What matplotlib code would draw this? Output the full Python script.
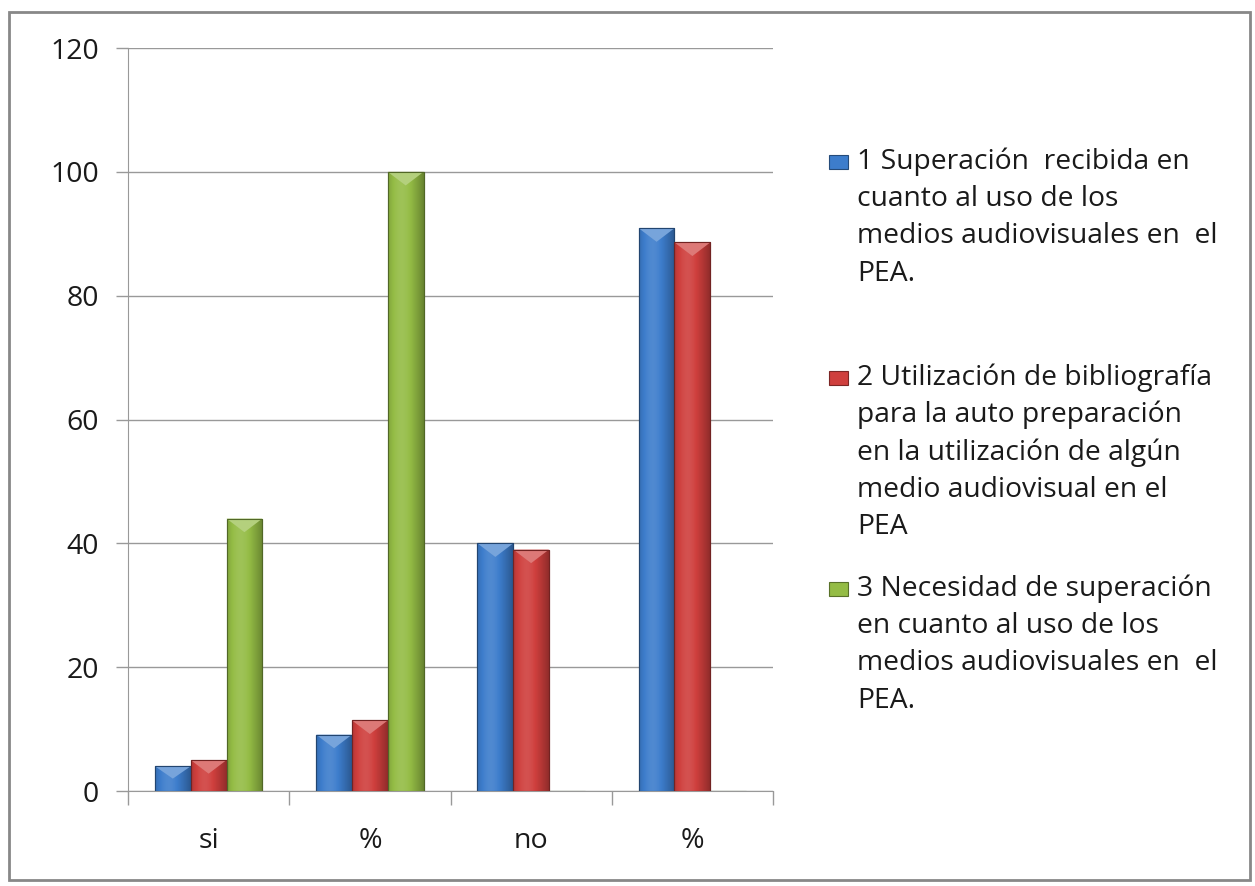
import numpy as np
import matplotlib
matplotlib.use("Agg")
import matplotlib.pyplot as plt
from matplotlib.patches import Rectangle
from matplotlib.colors import to_rgb

categories = ["si", "%", "no", "%"]
series_names = [
    "1 Superación  recibida en\ncuanto al uso de los\nmedios audiovisuales en  el\nPEA.",
    "2 Utilización de bibliografía\npara la auto preparación\nen la utilización de algún\nmedio audiovisual en el\nPEA",
    "3 Necesidad de superación\nen cuanto al uso de los\nmedios audiovisuales en  el\nPEA.",
]
s1 = [4, 9.1, 40, 90.9]
s2 = [5, 11.4, 39, 88.6]
s3 = [44, 100, 0, 0]
series = [s1, s2, s3]
colors = ["#3D7DCC", "#CF3F3D", "#94BC45"]
yticks = [0, 20, 40, 60, 80, 100, 120]

FONT = "Open Sans"
plt.rcParams["font.family"] = [FONT, "DejaVu Sans"]

fig = plt.figure(figsize=(12.55, 8.86), dpi=100)
W, H = 1255, 886
ax = fig.add_axes([128 / W, 1 - 791 / H, (773 - 128) / W, (791 - 48) / H])

x = np.arange(len(categories))
bw = 0.222

def shade(c, f):
    r = np.array(to_rgb(c))
    if f >= 0:
        return tuple(r + (1 - r) * f)
    return tuple(r * (1 + f))

for i, (vals, c) in enumerate(zip(series, colors)):
    xs = x + (i - 1) * bw
    bars = ax.bar(xs, vals, width=bw, color=c, edgecolor=shade(c, -0.45), linewidth=0.8, zorder=3)
    for b in bars:
        h = b.get_height()
        if h <= 0:
            continue
        x0 = b.get_x()
        t = np.linspace(0, 1, 64)
        prof = 0.12 * np.exp(-((t - 0.4) / 0.3) ** 2) - 0.3 * (t ** 3) - 0.15 * ((1 - t) ** 6)
        img = np.array([[shade(c, p) for p in prof]])
        im = ax.imshow(img, extent=[x0, x0 + bw, 0, h], aspect="auto", zorder=3.5, interpolation="bilinear")
        im.set_clip_path(b)
        cap = min(2.2, h * 0.5)
        ax.fill([x0, x0 + bw, x0 + bw / 2], [h, h, h - cap], color=shade(c, 0.3), zorder=3.6, linewidth=0)
        ax.add_patch(Rectangle((x0, 0), bw, h, fill=False, edgecolor=shade(c, -0.45), linewidth=0.8, zorder=3.7))

ax.set_xlim(-0.5, len(categories) - 0.5)
ax.set_ylim(0, 120)
ax.set_yticks(yticks)
ax.set_yticklabels([str(v) for v in yticks], fontsize=20.5, color="#1a1a1a")
ax.set_xticks(x)
ax.set_xticklabels(categories, fontsize=20.5, color="#1a1a1a")
ax.tick_params(axis="x", length=0, pad=26)
ax.tick_params(axis="y", length=9, color="#999999", width=1, pad=12)
ax.set_xticks(np.arange(-0.5, len(categories)), minor=True)
ax.tick_params(axis="x", which="minor", length=10, color="#999999", width=1)
ax.grid(axis="y", color="#999999", linewidth=1, zorder=0)
for s in ["top", "right"]:
    ax.spines[s].set_visible(False)
ax.spines["left"].set_color("#999999")
ax.spines["bottom"].set_color("#999999")

leg_x_marker = 829 / W
leg_x_text = 857 / W
starts = [162, 378, 589]
lh = 37.2
for name, c, y0 in zip(series_names, colors, starts):
    fig.patches.append(Rectangle((leg_x_marker, 1 - (y0 + 7) / H), 19 / W, 14 / H,
                                 transform=fig.transFigure, facecolor=c,
                                 edgecolor=shade(c, -0.4), linewidth=0.8))
    for k, line in enumerate(name.split("\n")):
        fig.text(leg_x_text, 1 - (y0 + k * lh) / H, line, fontsize=20.3,
                 va="center", ha="left", color="#1a1a1a")

fig.patches.append(Rectangle((9 / W, 6 / H), 1 - 14 / W, 1 - 18 / H, transform=fig.transFigure,
                             fill=False, edgecolor="#888888", linewidth=2))

fig.savefig("out.png", dpi=100)
